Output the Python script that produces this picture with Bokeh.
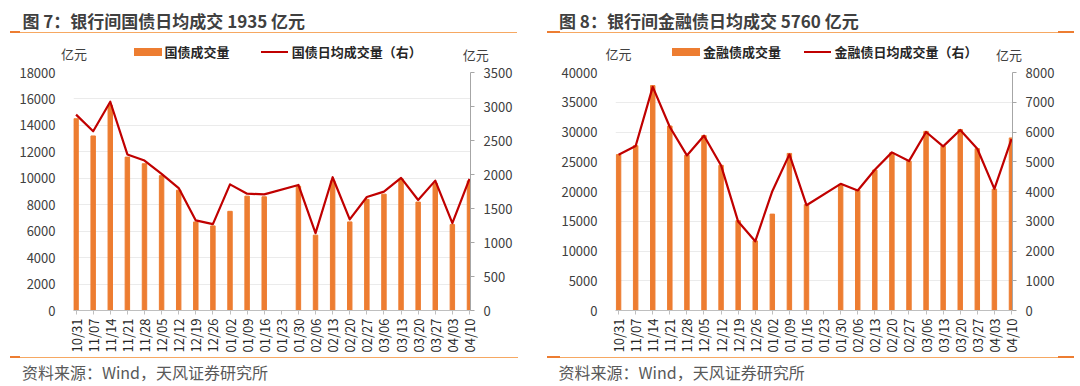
from bokeh.plotting import figure
from bokeh.models import Range1d, LinearAxis, FixedTicker, Div
from bokeh.layouts import row, column
from bokeh.embed import file_html
from bokeh.resources import INLINE

dates = ["10/31", "11/07", "11/14", "11/21", "11/28", "12/05", "12/12", "12/19",
         "12/26", "01/02", "01/09", "01/16", "01/23", "01/30", "02/06", "02/13",
         "02/20", "02/27", "03/06", "03/13", "03/20", "03/27", "04/03", "04/10"]

gov_volume = [14500, 13200, 15500, 11600, 11100, 10200, 9100, 6700, 6400, 7500, 8650, 8600,
              None, 9400, 5700, 9800, 6700, 8400, 8800, 9950, 8200, 9600, 6500, 9800]
gov_daily = [2880, 2635, 3070, 2295, 2205, 2010, 1800, 1325, 1270, 1855, 1718, 1708,
             None, 1846, 1137, 1960, 1339, 1669, 1748, 1950, 1625, 1910, 1285, 1935]

fin_volume = [26200, 27700, 37800, 31000, 26100, 29400, 24400, 15100, 11700, 16200, 26400, 17800,
              None, 21200, 20200, 23600, 26500, 25100, 30100, 27600, 30400, 27200, 20400, 29000]
fin_daily = [5236, 5528, 7517, 6169, 5213, 5876, 4876, 2989, 2326, 4011, 5247, 3539,
             None, 4258, 4034, 4730, 5315, 5022, 6000, 5517, 6067, 5438, 4090, 5760]

gov_left_ticks = [0, 2000, 4000, 6000, 8000, 10000, 12000, 14000, 16000, 18000]
gov_right_ticks = [0, 500, 1000, 1500, 2000, 2500, 3000, 3500]
fin_left_ticks = [0, 5000, 10000, 15000, 20000, 25000, 30000, 35000, 40000]
fin_right_ticks = [0, 1000, 2000, 3000, 4000, 5000, 6000, 7000, 8000]

FONT = "Noto Sans CJK SC"
BAR = "#ED7D31"
LINE = "#C00000"
RULE = "#F6A862"
HEAD_H = 64
FOOT_H = 31
CHART_TOP = 8
FRAME_H = 238
CHART_BOTTOM = 45


def span(x, y, text, size, bold=False, color="#404040"):
    return (f'<div style="position:absolute;left:{x}px;top:{y - 12}px;height:24px;'
            f'line-height:24px;font-family:\'{FONT}\';font-size:{size}px;'
            f'font-weight:{"bold" if bold else "normal"};color:{color};'
            f'white-space:nowrap;margin:0;padding:0">{text}</div>')


def block(x0, x1, y0, y1, color):
    return (f'<div style="position:absolute;left:{x0}px;top:{y0}px;width:{x1 - x0}px;'
            f'height:{y1 - y0}px;background:{color}"></div>')


def html_box(width, height, parts):
    inner = "".join(parts)
    return Div(text=f'<div style="position:relative;width:{width}px;height:{height}px;'
                    f'overflow:visible;margin:0;padding:0">{inner}</div>',
               width=width, height=height, margin=(0, 0, 0, 0))


def panel(width, bl, br, title, vol, daily, lt, rt, leg1, leg2, geo):
    n = len(dates)
    # ---------- header ----------
    parts = [span(geo["tx"], 20.7, title, 17, bold=True, color="#404040"),
             block(geo["u0"], geo["u1"], 31.6, 33.0, RULE)]
    parts += [block(a, b, 31.4, 33.2, BAR) for a, b in geo["dark"]]
    parts += [block(geo["s0"], geo["s0"] + 28, 47.7, 55.7, BAR),
              span(geo["s0"] + 31, 51.7, leg1, 13, bold=True, color="#262626"),
              block(geo["l0"], geo["l0"] + 27, 50.7, 52.7, LINE),
              span(geo["l0"] + 31, 51.7, leg2, 13, bold=True, color="#262626"),
              span(geo["ul"], 53.5, "亿元", 13, color="#404040"),
              span(geo["ur"], 54.5, "亿元", 13, color="#404040")]
    head = html_box(width, HEAD_H, parts)

    # ---------- chart ----------
    p = figure(width=width, height=CHART_TOP + FRAME_H + CHART_BOTTOM,
               output_backend="svg", toolbar_location=None,
               x_range=Range1d(geo["x0"], n - 1 + 0.06), y_range=Range1d(0, lt[-1]),
               min_border_left=bl, min_border_right=br, min_border_top=CHART_TOP,
               min_border_bottom=CHART_BOTTOM)
    p.outline_line_color = None
    p.extra_y_ranges = {"r": Range1d(0, rt[-1])}

    xs_bar = [i for i, v in enumerate(vol) if v is not None]
    tops = [v for v in vol if v is not None]
    p.vbar(x=xs_bar, top=tops, width=0.26, color=BAR)
    xs_line = [i for i, v in enumerate(daily) if v is not None]
    ys_line = [v for v in daily if v is not None]
    p.line(xs_line, ys_line, y_range_name="r", line_color=LINE, line_width=2.2,
           line_join="round")

    ya = p.yaxis[0]
    ya.ticker = FixedTicker(ticks=lt)
    ya.axis_line_color = None
    ya.major_tick_line_color = None
    ya.minor_tick_line_color = None
    ya.major_label_standoff = 12
    ya.major_label_text_font = FONT
    ya.major_label_text_font_size = "13px"
    ya.major_label_text_color = "#404040"

    ra = LinearAxis(y_range_name="r", ticker=FixedTicker(ticks=rt))
    ra.axis_line_color = "#A6A6A6"
    ra.major_tick_line_color = "#A6A6A6"
    ra.major_tick_in = 0
    ra.major_tick_out = 4
    ra.minor_tick_line_color = None
    ra.major_label_standoff = 9
    ra.major_label_text_font = FONT
    ra.major_label_text_font_size = "13px"
    ra.major_label_text_color = "#404040"
    p.add_layout(ra, "right")

    xa = p.xaxis[0]
    xa.ticker = FixedTicker(ticks=list(range(n)))
    xa.major_label_overrides = {i: d for i, d in enumerate(dates)}
    xa.major_label_orientation = 1.5708
    xa.axis_line_color = "#BFBFBF"
    xa.major_tick_line_color = "#BFBFBF"
    xa.major_tick_in = 0
    xa.major_tick_out = 4
    xa.minor_tick_line_color = None
    xa.major_label_standoff = 4
    xa.major_label_text_font = FONT
    xa.major_label_text_font_size = "13px"
    xa.major_label_text_color = "#262626"

    p.xgrid.grid_line_color = None
    p.ygrid.ticker = FixedTicker(ticks=lt)
    p.ygrid.grid_line_color = "#EBEBEB"

    # ---------- footer ----------
    fparts = [block(geo["u0"], geo["b1"], 1.6, 3.0, RULE)]
    fparts += [block(a, b, 1.4, 3.2, BAR) for a, b in geo["dark"]]
    fparts.append(span(geo["tx"] - 0.5, 16.7, "资料来源：Wind，天风证券研究所", 16,
                       color="#595959"))
    foot = html_box(width, FOOT_H, fparts)

    return column(head, p, foot, spacing=0)


c1 = panel(540, 73, 70, "图 7：银行间国债日均成交 1935 亿元", gov_volume, gov_daily,
           gov_left_ticks, gov_right_ticks, "国债成交量", "国债日均成交量（右）",
           dict(x0=-0.15, tx=22.4, u0=10, u1=517, b1=518, dark=[(10, 20)],
                s0=133.6, l0=260.7, ul=61, ur=462.7))
c2 = panel(540, 75, 68, "图 8：银行间金融债日均成交 5760 亿元", fin_volume, fin_daily,
           fin_left_ticks, fin_right_ticks, "金融债成交量", "金融债日均成交量（右）",
           dict(x0=-0.18, tx=19, u0=7, u1=518, b1=534, dark=[(7, 20), (518, 534)],
                s0=132, l0=263.6, ul=65.5, ur=456))

layout = row(c1, c2, spacing=0)
open("out.html", "w").write(file_html(layout, INLINE))
